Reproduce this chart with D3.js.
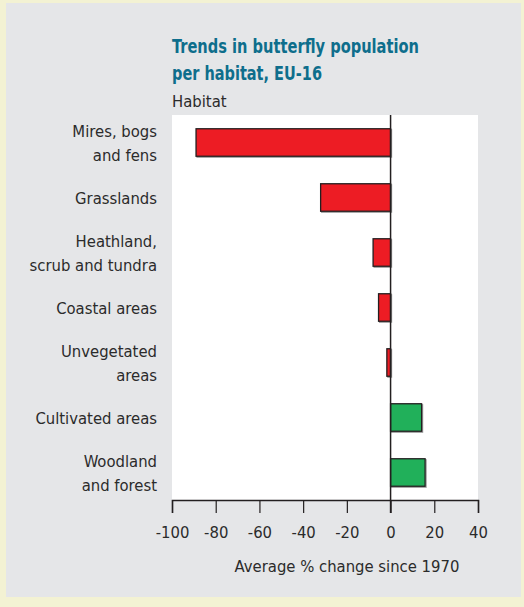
<!DOCTYPE html>
<html><head><meta charset="utf-8">
<script src="https://cdn.jsdelivr.net/npm/d3@7"></script>
<style>
html,body{margin:0;padding:0;background:#f3f2d3;}
svg{display:block;}
</style></head>
<body>
<script>
const categories = [
  ["Mires, bogs", "and fens"],
  ["Grasslands"],
  ["Heathland,", "scrub and tundra"],
  ["Coastal areas"],
  ["Unvegetated", "areas"],
  ["Cultivated areas"],
  ["Woodland", "and forest"]
];
const values = [-89, -32, -8, -5.5, -1.7, 14.2, 15.8];
const tickValues = [-100, -80, -60, -40, -20, 0, 20, 40];
const titleLines = ["Trends in butterfly population", "per habitat, EU-16"];
const yTitle = "Habitat";
const xTitle = "Average % change since 1970";

(function () {
const W = 524, H = 607;
const font = "'Liberation Sans Narrow','DejaVu Sans Condensed','Arial Narrow',sans-serif";
const svg = d3.select("body").append("svg").attr("width", W).attr("height", H);

svg.append("rect").attr("x", 0).attr("y", 0).attr("width", W).attr("height", H).attr("fill", "#f3f2d3");
svg.append("rect").attr("x", 6).attr("y", 3).attr("width", 515).attr("height", 594).attr("fill", "#e5e6e8");

const pL = 172, pR = 478, pT = 115, pB = 500;
const x = d3.scaleLinear().domain([-100, 40]).range([pL, pR]);
const y = d3.scaleBand().domain(d3.range(categories.length)).range([pT, pB]).paddingInner(0.5).paddingOuter(0.25);

svg.append("rect").attr("x", pL).attr("y", pT).attr("width", pR - pL).attr("height", pB - pT).attr("fill", "#ffffff");

// title (condensed to match the narrow reference face)
const tWidths = [247, 150];
svg.append("g").selectAll("text").data(titleLines).join("text")
  .attr("x", pL).attr("y", (d, i) => 53 + i * 27)
  .attr("font-family", font).attr("font-weight", "bold").attr("font-size", 20)
  .attr("textLength", (d, i) => tWidths[i]).attr("lengthAdjust", "spacingAndGlyphs")
  .attr("fill", "#0e6e8c").text(d => d);

svg.append("text").attr("x", pL).attr("y", 107)
  .attr("font-family", font).attr("font-size", 16.5).attr("fill", "#2b2b2b").text(yTitle);

// bars shadow + bars
const g = svg.append("g");
g.selectAll("rect.shadow").data(values).join("rect").attr("class", "shadow")
  .attr("x", d => Math.min(x(d), x(0)) + 1).attr("y", (d, i) => y(i) + 1)
  .attr("width", d => Math.abs(x(d) - x(0))).attr("height", y.bandwidth())
  .attr("fill", "none").attr("stroke", "#999").attr("stroke-width", 1.2);
g.selectAll("rect.bar").data(values).join("rect").attr("class", "bar")
  .attr("x", d => Math.min(x(d), x(0))).attr("y", (d, i) => y(i))
  .attr("width", d => Math.abs(x(d) - x(0))).attr("height", y.bandwidth())
  .attr("fill", d => d < 0 ? "#ed1c24" : "#21b05a")
  .attr("stroke", "#231f20").attr("stroke-width", 1.3);

// category labels
const lab = svg.append("g").selectAll("text").data(categories).join("text")
  .attr("text-anchor", "end").attr("font-family", font).attr("font-size", 16.5).attr("fill", "#2b2b2b");
lab.each(function(lines, i) {
  const cy = y(i) + y.bandwidth() / 2;
  const n = lines.length;
  d3.select(this).selectAll("tspan").data(lines).join("tspan")
    .attr("x", 157)
    .attr("y", (d, j) => cy + 6 + (j - (n - 1) / 2) * 24)
    .text(d => d);
});

// x axis
const axis = d3.axisBottom(x).tickValues(tickValues).tickSize(13).tickPadding(13).tickFormat(d3.format("d"));
const ax = svg.append("g").attr("transform", `translate(0,${pB})`).call(axis);
ax.select(".domain").attr("stroke", "#231f20").attr("stroke-width", 1.5);
ax.selectAll(".tick line").attr("stroke", "#231f20").attr("stroke-width", 1.2);
ax.selectAll(".tick text").attr("font-family", font).attr("font-size", 16.5).attr("fill", "#2b2b2b")
  .text(d => d < 0 ? "-" + Math.abs(d) : d);

// zero line
svg.append("line").attr("x1", x(0)).attr("x2", x(0)).attr("y1", pT).attr("y2", pB + 13)
  .attr("stroke", "#231f20").attr("stroke-width", 1.5);

svg.append("text").attr("x", 347).attr("y", 572).attr("text-anchor", "middle")
  .attr("font-family", font).attr("font-size", 16.5).attr("fill", "#2b2b2b").text(xTitle);
})();
</script>
</body></html>
